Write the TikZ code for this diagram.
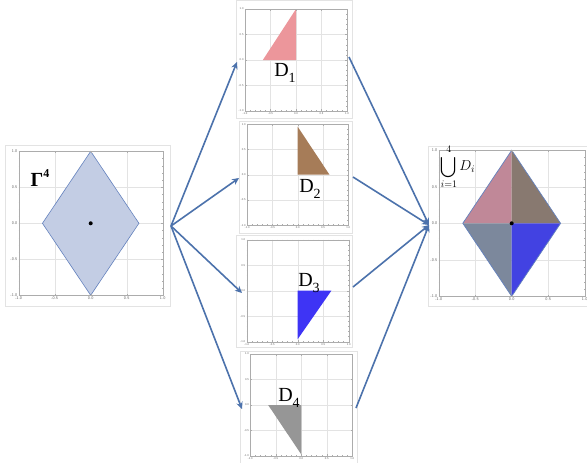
\documentclass[tikz,border=0pt]{standalone}
\usepackage{amsmath}
\usepackage{fontspec}
\newfontfamily\tnrfont{Liberation Serif}
\usetikzlibrary{arrows.meta}
\definecolor{arrowblue}{RGB}{76,114,172}
\definecolor{rhfill}{RGB}{195,205,228}
\definecolor{rhedge}{RGB}{100,130,190}
\definecolor{dpink}{RGB}{236,150,155}
\definecolor{dbrown}{RGB}{166,124,88}
\definecolor{dblue}{RGB}{62,52,245}
\definecolor{dgray}{RGB}{150,150,150}
\definecolor{uTL}{RGB}{192,136,152}
\definecolor{uTR}{RGB}{136,121,112}
\definecolor{uBL}{RGB}{124,136,156}
\definecolor{uBR}{RGB}{66,66,226}
\tikzset{
  gridc/.style={draw=gray!22, line width=0.4pt},
  framec/.style={draw=gray!65, line width=0.4pt},
  tickc/.style={draw=gray!65, line width=0.3pt},
  imgborder/.style={draw=gray!22, line width=0.6pt},
  arr/.style={draw=arrowblue, line width=1.6pt, -{Stealth[length=7pt,width=6.5pt]}},
  lab/.style={font=\fontsize{20}{21}\selectfont\tnrfont, inner sep=0pt},
}
\newcommand\dlab[1]{D\raisebox{-0.28em}{\fontsize{14}{14}\selectfont #1}}
% #1 x0, #2 y0 (pixel position of data origin), #3 unit (px), #4 name, #5 tick font size, #6 content
\newcommand\plotpanel[6]{%
  \begin{scope}[shift={(#1pt,-#2pt)}, x=#3pt, y=#3pt]
    \foreach \v in {-0.5,0,0.5} {
      \draw[gridc] (\v,-1) -- (\v,1);
      \draw[gridc] (-1,\v) -- (1,\v);
    }
    #6
    \node[framec, rectangle, inner sep=0pt, minimum width=2*#3pt, minimum height=2*#3pt] (#4) at (0,0) {};
    \foreach \k in {-10,...,10} {
      \pgfmathsetmacro\tl{ifthenelse(mod(\k,5)==0,1.6,0.8)}
      \draw[tickc] (\k/10,-1) -- ++(0,\tl pt);
      \draw[tickc] (\k/10,1) -- ++(0,-\tl pt);
      \draw[tickc] (-1,\k/10) -- ++(\tl pt,0);
      \draw[tickc] (1,\k/10) -- ++(-\tl pt,0);
    }
    \foreach \v/\t in {-1/-1.0,-0.5/-0.5,0/0.0,0.5/0.5,1/1.0} {
      \node[font=\fontsize{#5}{#5}\selectfont\sffamily, text=gray!75!black, inner sep=0pt, anchor=north, yshift=-1.3pt] at (\v,-1) {\t};
      \node[font=\fontsize{#5}{#5}\selectfont\sffamily, text=gray!75!black, inner sep=0pt, anchor=east, xshift=-1.3pt] at (-1,\v) {\t};
    }
  \end{scope}}
\begin{document}
\begin{tikzpicture}[x=1pt, y=-1pt]
  \useasboundingbox (0,0) rectangle (587,463);
  \fill[white] (0,0) rectangle (587,463);

  % image borders
  \draw[imgborder] (5,145) rectangle (170,306);
  \draw[imgborder] (236,0) rectangle (352,118);
  \draw[imgborder] (239,121) rectangle (352,233);
  \draw[imgborder] (236,235) rectangle (352,347);
  \draw[imgborder] (240,351) rectangle (357,463);
  \draw[imgborder] (428,146) rectangle (587,306);

  % left panel: Gamma^4
  \plotpanel{90.7}{223.3}{72}{G}{4}{%
    \draw[rhedge, fill=rhfill, line width=0.6pt] (0,1) -- (0.67,0) -- (0,-1) -- (-0.67,0) -- cycle;
    \fill[black] (0,0) circle (2pt);
  }
  \node[inner sep=0pt, font=\fontsize{20}{21}\selectfont\tnrfont\bfseries] (gam) at (40,178) {Γ\raisebox{0.42em}{\fontsize{12}{12}\selectfont 4}};

  % D1
  \plotpanel{296}{60}{51}{P1}{2.8}{%
    \fill[dpink] (-0.65,0) -- (0,0) -- (0,1) -- cycle;
  }
  \node[lab] (d1) at (285,73) {\dlab{1}};

  % D2
  \plotpanel{297.7}{174.7}{50.5}{P2}{2.8}{%
    \fill[dbrown] (0,0) -- (0.63,0) -- (0,0.95) -- cycle;
  }
  \node[lab] (d2) at (310,189) {\dlab{2}};

  % D3
  \plotpanel{297.7}{290.7}{51}{P3}{2.8}{%
    \fill[dblue] (0,0) -- (0.66,0) -- (0,-0.95) -- cycle;
  }
  \node[lab] (d3) at (309,283) {\dlab{3}};

  % D4
  \plotpanel{301.3}{405}{51}{P4}{2.8}{%
    \fill[dgray] (-0.65,0) -- (0,0) -- (0,-0.97) -- cycle;
  }
  \node[lab] (d4) at (289,398) {\dlab{4}};

  % union panel
  \plotpanel{511.7}{223.3}{73}{U}{4}{%
    \fill[uTL] (-0.67,0) -- (0,0) -- (0,1) -- cycle;
    \fill[uTR] (0.67,0) -- (0,0) -- (0,1) -- cycle;
    \fill[uBL] (-0.67,0) -- (0,0) -- (0,-1) -- cycle;
    \fill[uBR] (0.67,0) -- (0,0) -- (0,-1) -- cycle;
    \draw[rhedge, line width=0.7pt] (0,1) -- (0.67,0) -- (0,-1) -- (-0.67,0) -- cycle;
    \fill[black] (0,0) circle (2pt);
  }
  \node[inner sep=0pt, font=\fontsize{14}{16}\selectfont] (un) at (458,167) {$\displaystyle\bigcup_{i=1}^{4} D_i$};

  % connector end points
  \coordinate (Gout) at (171,226);
  \coordinate (P1in) at (237,62);
  \coordinate (P2in) at (239,178);
  \coordinate (P3in) at (242,293);
  \coordinate (P4in) at (242,409);
  \coordinate (P1out) at (349,57);
  \coordinate (P2out) at (353,177);
  \coordinate (P3out) at (353,287);
  \coordinate (P4out) at (356,408);
  \coordinate (Uin) at (429,225);

  \foreach \i in {1,2,3,4} {
    \draw[arr] (Gout) -- (P\i in);
    \draw[arr] (P\i out) -- (Uin);
  }
\end{tikzpicture}
\end{document}
